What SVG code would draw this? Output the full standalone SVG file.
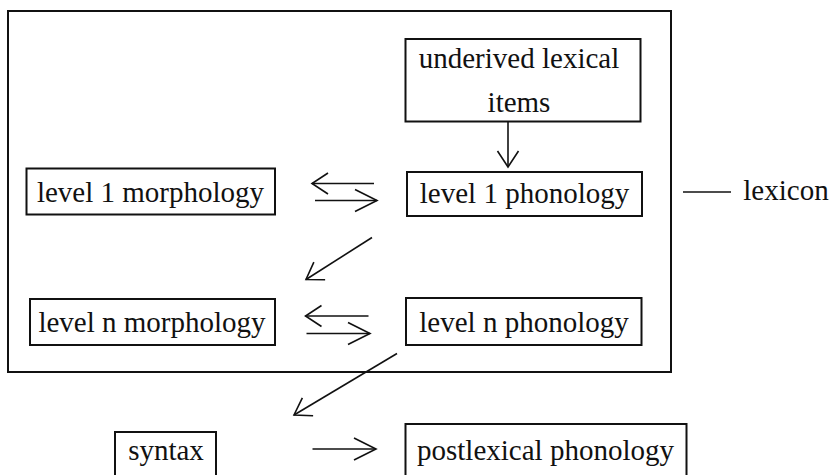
<svg xmlns="http://www.w3.org/2000/svg" width="830" height="475" viewBox="0 0 830 475">
<style>
.box{fill:none;stroke:#111;stroke-width:2}
.t{font-family:"Liberation Serif","Times New Roman",serif;font-size:29px;fill:#111;text-anchor:middle}
.c{fill:none;stroke:#111;stroke-width:1.6}
</style>
<defs>
<marker id="h" markerUnits="userSpaceOnUse" markerWidth="30" markerHeight="30" viewBox="-25 -15 30 30" refX="0" refY="0" orient="auto" overflow="visible">
<path d="M-16,-10.5 L0,0 L-16,10.5" fill="none" stroke="#111" stroke-width="1.6"/>
</marker>
<marker id="hl" markerUnits="userSpaceOnUse" markerWidth="30" markerHeight="30" viewBox="-25 -15 30 30" refX="0" refY="0" orient="auto" overflow="visible">
<path d="M-22,-11 L0,0 L-22,11" fill="none" stroke="#111" stroke-width="1.6"/>
</marker>
</defs>
<g id="lexicon-frame">
<rect class="box" x="8" y="11" width="663" height="361"/>
<line class="c" x1="683" y1="192" x2="731" y2="192"/>
<text class="t" x="786" y="200">lexicon</text>
</g>
<g id="underived">
<rect class="box" x="405.5" y="39" width="235" height="82.5"/>
<text class="t" x="519" y="68">underived lexical</text>
<text class="t" x="519" y="112">items</text>
</g>
<g id="l1morph">
<rect class="box" x="26.5" y="168.5" width="248.5" height="46"/>
<text class="t" x="150.5" y="202">level 1 morphology</text>
</g>
<g id="l1phon">
<rect class="box" x="407" y="172" width="235" height="44"/>
<text class="t" x="524.5" y="203">level 1 phonology</text>
</g>
<g id="lnmorph">
<rect class="box" x="30" y="299" width="245" height="46"/>
<text class="t" x="152" y="332">level n morphology</text>
</g>
<g id="lnphon">
<rect class="box" x="406" y="298" width="235.5" height="47"/>
<text class="t" x="524" y="332">level n phonology</text>
</g>
<g id="syntax">
<rect class="box" x="115" y="432" width="101" height="50"/>
<text class="t" x="166" y="460">syntax</text>
</g>
<g id="postlex">
<rect class="box" x="405.5" y="424" width="281" height="58"/>
<text class="t" x="545.5" y="460">postlexical phonology</text>
</g>
<g id="connectors">
<line class="c" x1="508" y1="121.5" x2="508" y2="167" marker-end="url(#h)"/>
<line class="c" x1="374" y1="183.5" x2="312" y2="183.5" marker-end="url(#h)"/>
<line class="c" x1="315" y1="200.5" x2="377" y2="200.5" marker-end="url(#hl)"/>
<line class="c" x1="372" y1="237.5" x2="306" y2="279.5" marker-end="url(#h)"/>
<line class="c" x1="368.5" y1="316" x2="305.5" y2="316" marker-end="url(#h)"/>
<line class="c" x1="306.5" y1="333.5" x2="370" y2="333.5" marker-end="url(#hl)"/>
<line class="c" x1="397" y1="353.5" x2="294" y2="415" marker-end="url(#h)"/>
<line class="c" x1="312.5" y1="449" x2="376" y2="449" marker-end="url(#hl)"/>
</g>
</svg>
